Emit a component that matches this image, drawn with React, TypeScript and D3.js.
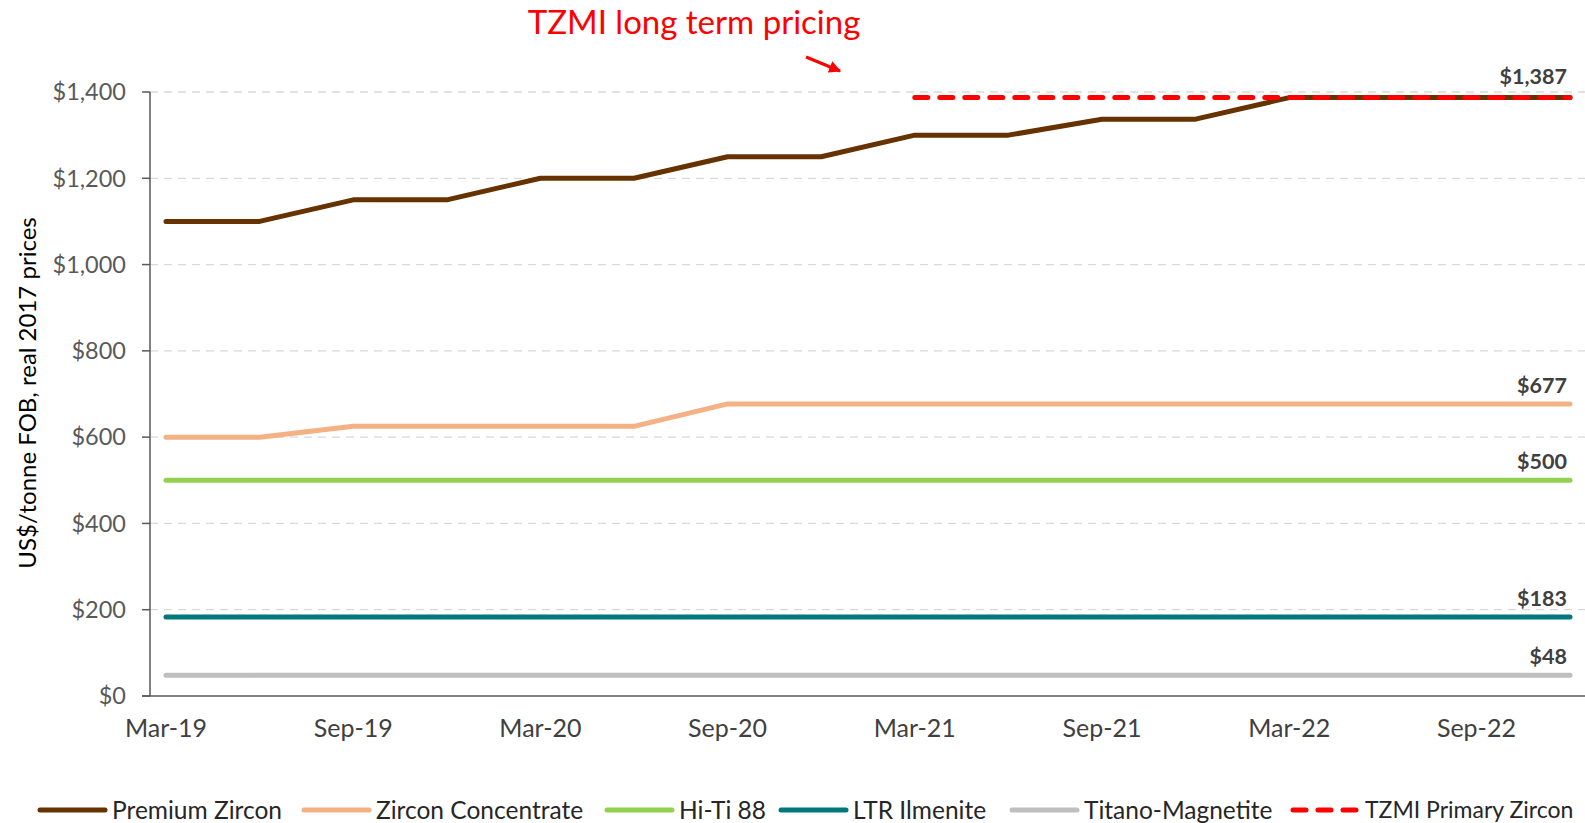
import React from "react";
import * as d3 from "d3";

const quarters = ["Mar-19","Jun-19","Sep-19","Dec-19","Mar-20","Jun-20","Sep-20","Dec-20","Mar-21","Jun-21","Sep-21","Dec-21","Mar-22","Jun-22","Sep-22","Dec-22"];
const tickLabels = ["Mar-19","Sep-19","Mar-20","Sep-20","Mar-21","Sep-21","Mar-22","Sep-22"];
const yTicks = [0, 200, 400, 600, 800, 1000, 1200, 1400];

const premiumZircon = [1100,1100,1150,1150,1200,1200,1250,1250,1300,1300,1337,1337,1387,1387,1387,1387];
const zirconConcentrate = [600,600,625,625,625,625,677,677,677,677,677,677,677,677,677,677];
const hiTi88 = [500,500,500,500,500,500,500,500,500,500,500,500,500,500,500,500];
const ltrIlmenite = [183,183,183,183,183,183,183,183,183,183,183,183,183,183,183,183];
const titanoMagnetite = [48,48,48,48,48,48,48,48,48,48,48,48,48,48,48,48];
const tzmiPrimary: (number | null)[] = [null,null,null,null,null,null,null,null,1387,1387,1387,1387,1387,1387,1387,1387];

const seriesNames = ["Premium Zircon","Zircon Concentrate","Hi-Ti 88","LTR Ilmenite","Titano-Magnetite","TZMI Primary Zircon"];
const endLabels = ["$1,387","$677","$500","$183","$48"];

const colors = ["#663300","#F4B183","#92D050","#00777A","#BFBFBF","#FF0000"];

export default function App() {
  const W = 1585, H = 823;
  const x = d3.scalePoint<string>().domain(quarters).range([166, 1570]);
  const y = d3.scaleLinear().domain([0, 1400]).range([696, 92]);
  const font = "Lato, 'Open Sans', sans-serif";

  const line = d3.line<number | null>()
    .defined(d => d !== null)
    .x((_, i) => x(quarters[i]) as number)
    .y(d => y(d as number));

  const solid = [premiumZircon, zirconConcentrate, hiTi88, ltrIlmenite, titanoMagnetite];
  const legendX = [37, 301, 604, 778, 1009, 1290];
  const legendY = 810;

  return (
    <svg width={W} height={H} style={{ position: "absolute", left: 0, top: 0, background: "#fff" }} fontFamily={font}>
      {yTicks.filter(t => t > 0).map(t => (
        <line key={t} x1={150} x2={1585} y1={y(t)} y2={y(t)} stroke="#D9D9D9" strokeWidth={1.3} strokeDasharray="8,6" />
      ))}
      <line x1={150} x2={150} y1={y(1400)} y2={y(0)} stroke="#595959" strokeWidth={1.5} />
      <line x1={142} x2={1585} y1={y(0)} y2={y(0)} stroke="#595959" strokeWidth={1.5} />
      {yTicks.map(t => (
        <g key={t}>
          <line x1={142} x2={150} y1={y(t)} y2={y(t)} stroke="#595959" strokeWidth={1.5} />
          <text x={126} y={y(t)} dy="0.35em" textAnchor="end" fontSize={23.5} fill="#595959">
            {d3.format("$,")(t)}
          </text>
        </g>
      ))}
      {tickLabels.map(l => (
        <text key={l} x={x(l)} y={737} textAnchor="middle" fontSize={25} fill="#404040">{l}</text>
      ))}
      <text transform={`translate(36,393) rotate(-90)`} textAnchor="middle" fontSize={24} fill="#000">
        US$/tonne FOB, real 2017 prices
      </text>

      {solid.map((s, i) => (
        <path key={i} d={line(s) as string} fill="none" stroke={colors[i]} strokeWidth={5} strokeLinecap="round" strokeLinejoin="round" />
      ))}
      <path d={line(tzmiPrimary) as string} fill="none" stroke={colors[5]} strokeWidth={5} strokeLinecap="round" strokeDasharray="13,12" />

      {solid.map((s, i) => (
        <text key={i} x={1567} y={y(s[s.length - 1]) - (i === 0 ? 14 : 11)} textAnchor="end" fontSize={21.5} fontWeight="bold" fill="#404040">
          {endLabels[i]}
        </text>
      ))}

      <text x={694} y={34} textAnchor="middle" fontSize={33} fill="#FF0000">TZMI long term pricing</text>
      <defs>
        <marker id="arr" viewBox="0 0 10 10" refX="9" refY="5" markerWidth="4" markerHeight="4" orient="auto">
          <path d="M0,0 L10,5 L0,10 z" fill="#FF0000" />
        </marker>
      </defs>
      <line x1={806} y1={57} x2={840} y2={71} stroke="#FF0000" strokeWidth={3} markerEnd="url(#arr)" />

      {seriesNames.map((n, i) => (
        <g key={n}>
          <line x1={legendX[i] + 3} x2={legendX[i] + 68} y1={legendY} y2={legendY} stroke={colors[i]} strokeWidth={5}
            strokeLinecap="round" strokeDasharray={i === 5 ? "13,12" : undefined} />
          <text x={legendX[i] + 75} y={legendY} dy="0.35em" fontSize={i === 5 ? 23 : 24.5} fill="#262626">{n}</text>
        </g>
      ))}
    </svg>
  );
}
